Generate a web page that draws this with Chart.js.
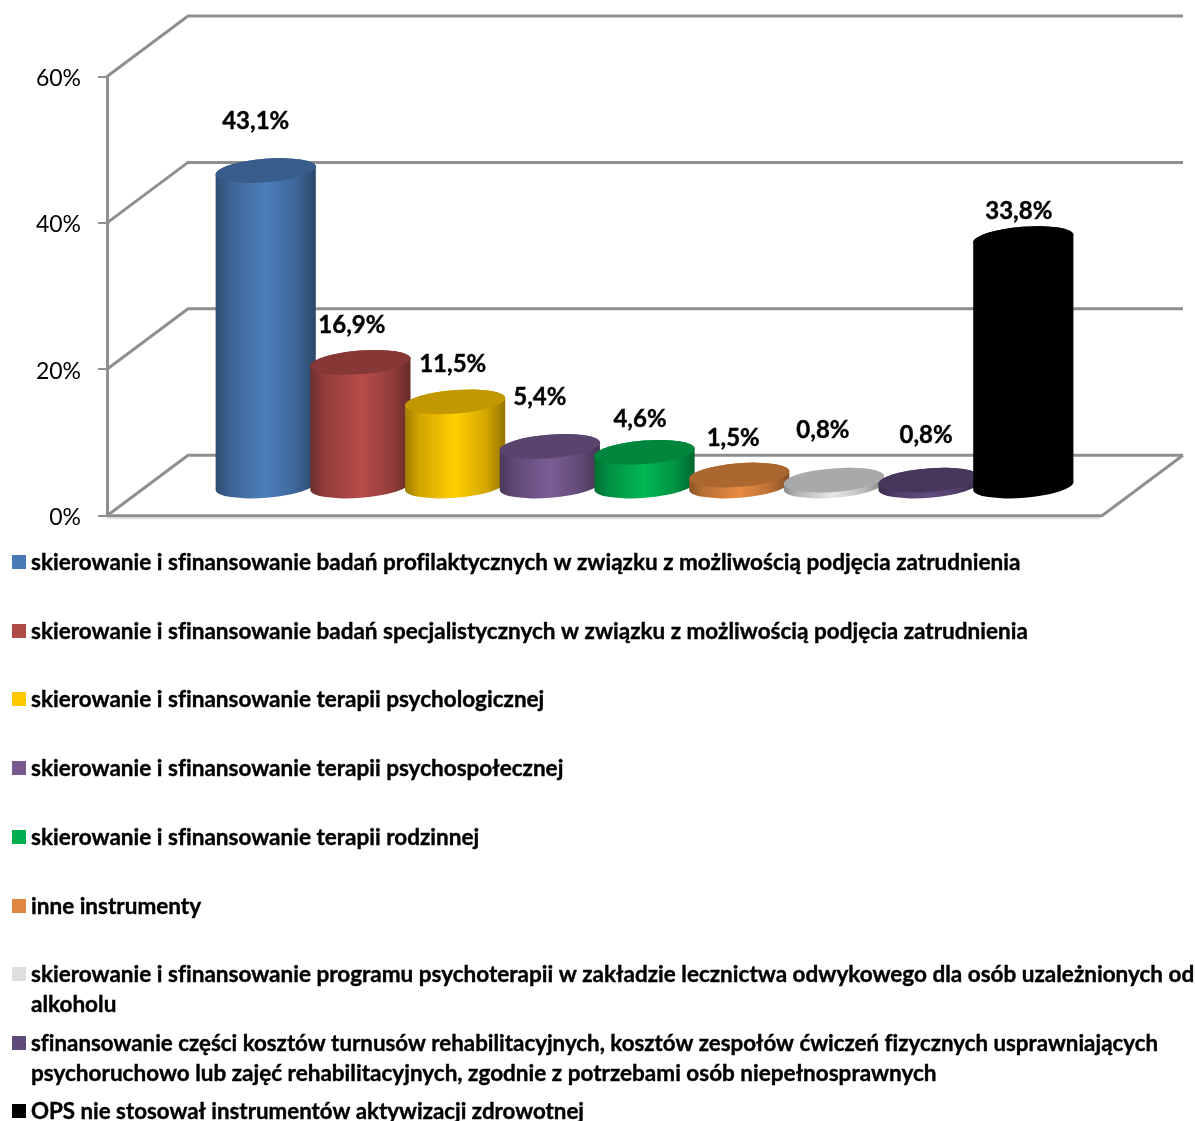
<!DOCTYPE html>
<html lang="pl"><head><meta charset="utf-8">
<style>html,body{margin:0;padding:0;background:#fff;overflow:hidden}canvas{display:block}</style>
<script src="https://cdn.jsdelivr.net/npm/chart.js@4"></script>
</head><body><canvas id="c" width="1195" height="1121"></canvas>
<script>
const categories = [
 "skierowanie i sfinansowanie badań profilaktycznych w związku z możliwością podjęcia zatrudnienia",
 "skierowanie i sfinansowanie badań specjalistycznych w związku z możliwością podjęcia zatrudnienia",
 "skierowanie i sfinansowanie terapii psychologicznej",
 "skierowanie i sfinansowanie terapii psychospołecznej",
 "skierowanie i sfinansowanie terapii rodzinnej",
 "inne instrumenty",
 "skierowanie i sfinansowanie programu psychoterapii w zakładzie lecznictwa odwykowego dla osób uzależnionych od\nalkoholu",
 "sfinansowanie części kosztów turnusów rehabilitacyjnych, kosztów zespołów ćwiczeń fizycznych usprawniających\npsychoruchowo lub zajęć rehabilitacyjnych, zgodnie z potrzebami osób niepełnosprawnych",
 "OPS nie stosował instrumentów aktywizacji zdrowotnej"
];
const values = [43.1,16.9,11.5,5.4,4.6,1.5,0.8,0.8,33.8];
const tickValues = [0,20,40,60];
const colors = ["#4A7AB5","#AF4A47","#FFC800","#75598F","#00B050","#E0873F","#DEDEDE","#5F497A","#000000"];
const labelDx = [-10,-8.5,-2.4,-10,-4.5,-6,-11,-2.5,-4.5];
const labelDy = [-49,-37,-38,-49,-33,-37,-50,-45,-27];
const legendY = [563,632,700,769,838,907,975,1044,1112];
const legendFitWidth = {7:1127,8:553};

const FONT = "Lato, Carlito, sans-serif";
const GRID = "#8F8F8F";
const ELL_RY = 11.8, TILT = -4.5 * Math.PI/180;

function shade(hex,f){
  const n=parseInt(hex.slice(1),16);
  const c=[n>>16&255,n>>8&255,n&255].map(v=>Math.min(255,Math.round(v*f)));
  return `rgb(${c[0]},${c[1]},${c[2]})`;
}
// The bars are the library's own BarElements: only their look is a cylinder.
Chart.BarElement.prototype.draw = function(ctx){
  const {x,y,base,width} = this.getProps(['x','y','base','width'],false);
  const col = this.options.backgroundColor, a = width/2;
  const l=x-a, r=x+a;
  const g=ctx.createLinearGradient(l,0,r,0);
  g.addColorStop(0,shade(col,.62)); g.addColorStop(.14,shade(col,.82));
  g.addColorStop(.5,shade(col,1.04)); g.addColorStop(.8,shade(col,.84)); g.addColorStop(1,shade(col,.58));
  ctx.save();
  ctx.beginPath();
  ctx.ellipse(x,base,a,ELL_RY,TILT,0,Math.PI,false);
  ctx.ellipse(x,y,a,ELL_RY,TILT,Math.PI,2*Math.PI,false);
  ctx.closePath();
  ctx.fillStyle=g; ctx.fill();
  ctx.beginPath();
  ctx.ellipse(x,y,a,ELL_RY,TILT,0,2*Math.PI);
  ctx.fillStyle=shade(col,.76); ctx.fill();
  ctx.restore();
};

function boldText(ctx,text,x,y,maxW){
  if(maxW){ ctx.fillText(text,x,y,maxW); ctx.strokeText(text,x,y,maxW); }
  else { ctx.fillText(text,x,y); ctx.strokeText(text,x,y); }
}
const walls = {
  id:'walls',
  beforeDatasetsDraw(chart){
    const {ctx,chartArea:ca,scales}=chart, ys=scales.y;
    const dx=81, dy=-60.5, rightBack=ca.right+dx;
    ctx.save();
    ctx.lineCap='butt'; ctx.lineJoin='miter';
    const y0=ys.getPixelForValue(0);
    ctx.strokeStyle='#E4E4E4'; ctx.lineWidth=2;
    ctx.beginPath(); ctx.moveTo(ca.left,y0+2.6); ctx.lineTo(ca.right-2,y0+2.6); ctx.stroke();
    ctx.strokeStyle=GRID; ctx.lineWidth=3;
    for(const t of tickValues){
      const py=ys.getPixelForValue(t);
      ctx.beginPath(); ctx.moveTo(ca.left,py); ctx.lineTo(ca.left+dx,py+dy); ctx.lineTo(rightBack,py+dy); ctx.stroke();
    }
    ctx.beginPath(); ctx.moveTo(ca.left,y0); ctx.lineTo(ca.right,y0); ctx.lineTo(rightBack,y0+dy); ctx.stroke();
    ctx.restore();
  }
};
const valueLabels = {
  id:'valueLabels',
  afterDatasetsDraw(chart){
    const {ctx}=chart, bars=chart.getDatasetMeta(0).data;
    ctx.save();
    ctx.font=`700 24px ${FONT}`; ctx.letterSpacing='0.01px';
    ctx.fillStyle='#000'; ctx.strokeStyle='#000'; ctx.lineWidth=.4; ctx.textAlign='center'; ctx.textBaseline='middle';
    bars.forEach((b,i)=>{
      boldText(ctx,values[i].toFixed(1).replace('.',',')+'%', b.x+labelDx[i], b.y+labelDy[i]);
    });
    ctx.restore();
  }
};
const legendRows = {
  id:'legendRows',
  afterDraw(chart){
    const {ctx}=chart;
    ctx.save();
    ctx.font=`700 22.5px ${FONT}`; ctx.letterSpacing='0.01px';
    ctx.strokeStyle='#000'; ctx.lineWidth=.4; ctx.textAlign='left'; ctx.textBaseline='middle';
    categories.forEach((c,i)=>{
      ctx.fillStyle=colors[i];
      ctx.fillRect(12,legendY[i]-8,14,14);
      ctx.fillStyle='#000';
      c.split('\n').forEach((line,k)=>boldText(ctx,line,31,legendY[i]+k*30,k===0?legendFitWidth[i]:undefined));
    });
    ctx.restore();
  }
};

new Chart(document.getElementById('c'),{
  type:'bar',
  data:{datasets:[{
    label:'Instrumenty',
    data:values.map((v,i)=>({x:i,y:v})),
    backgroundColor:colors,
    barThickness:100.5,
    xAxisID:'x', yAxisID:'yDepth'
  }]},
  plugins:[walls,valueLabels,legendRows],
  options:{
    responsive:false,animation:false,
    layout:{padding:{left:0,top:76.5,right:93,bottom:605.3}},
    plugins:{legend:{display:false},tooltip:{enabled:false}},
    scales:{
      x:{type:'linear',display:false,offset:false,min:-1.676,max:8.831,grid:{display:false}},
      yDepth:{type:'linear',display:false,min:-4.057,max:55.943,grid:{display:false}},
      y:{type:'linear',position:'left',min:0,max:60,
        afterFit(s){s.width=107},
        afterBuildTicks(s){s.ticks=tickValues.map(v=>({value:v}))},
        border:{display:true,color:GRID,width:3},
        grid:{drawOnChartArea:false,drawTicks:true,tickLength:9,color:GRID,lineWidth:2},
        ticks:{padding:17,labelOffset:2,color:'#000',font:{family:FONT,size:23,weight:'400'},callback:v=>v+'%'}
      }
    }
  }
});
</script></body></html>
